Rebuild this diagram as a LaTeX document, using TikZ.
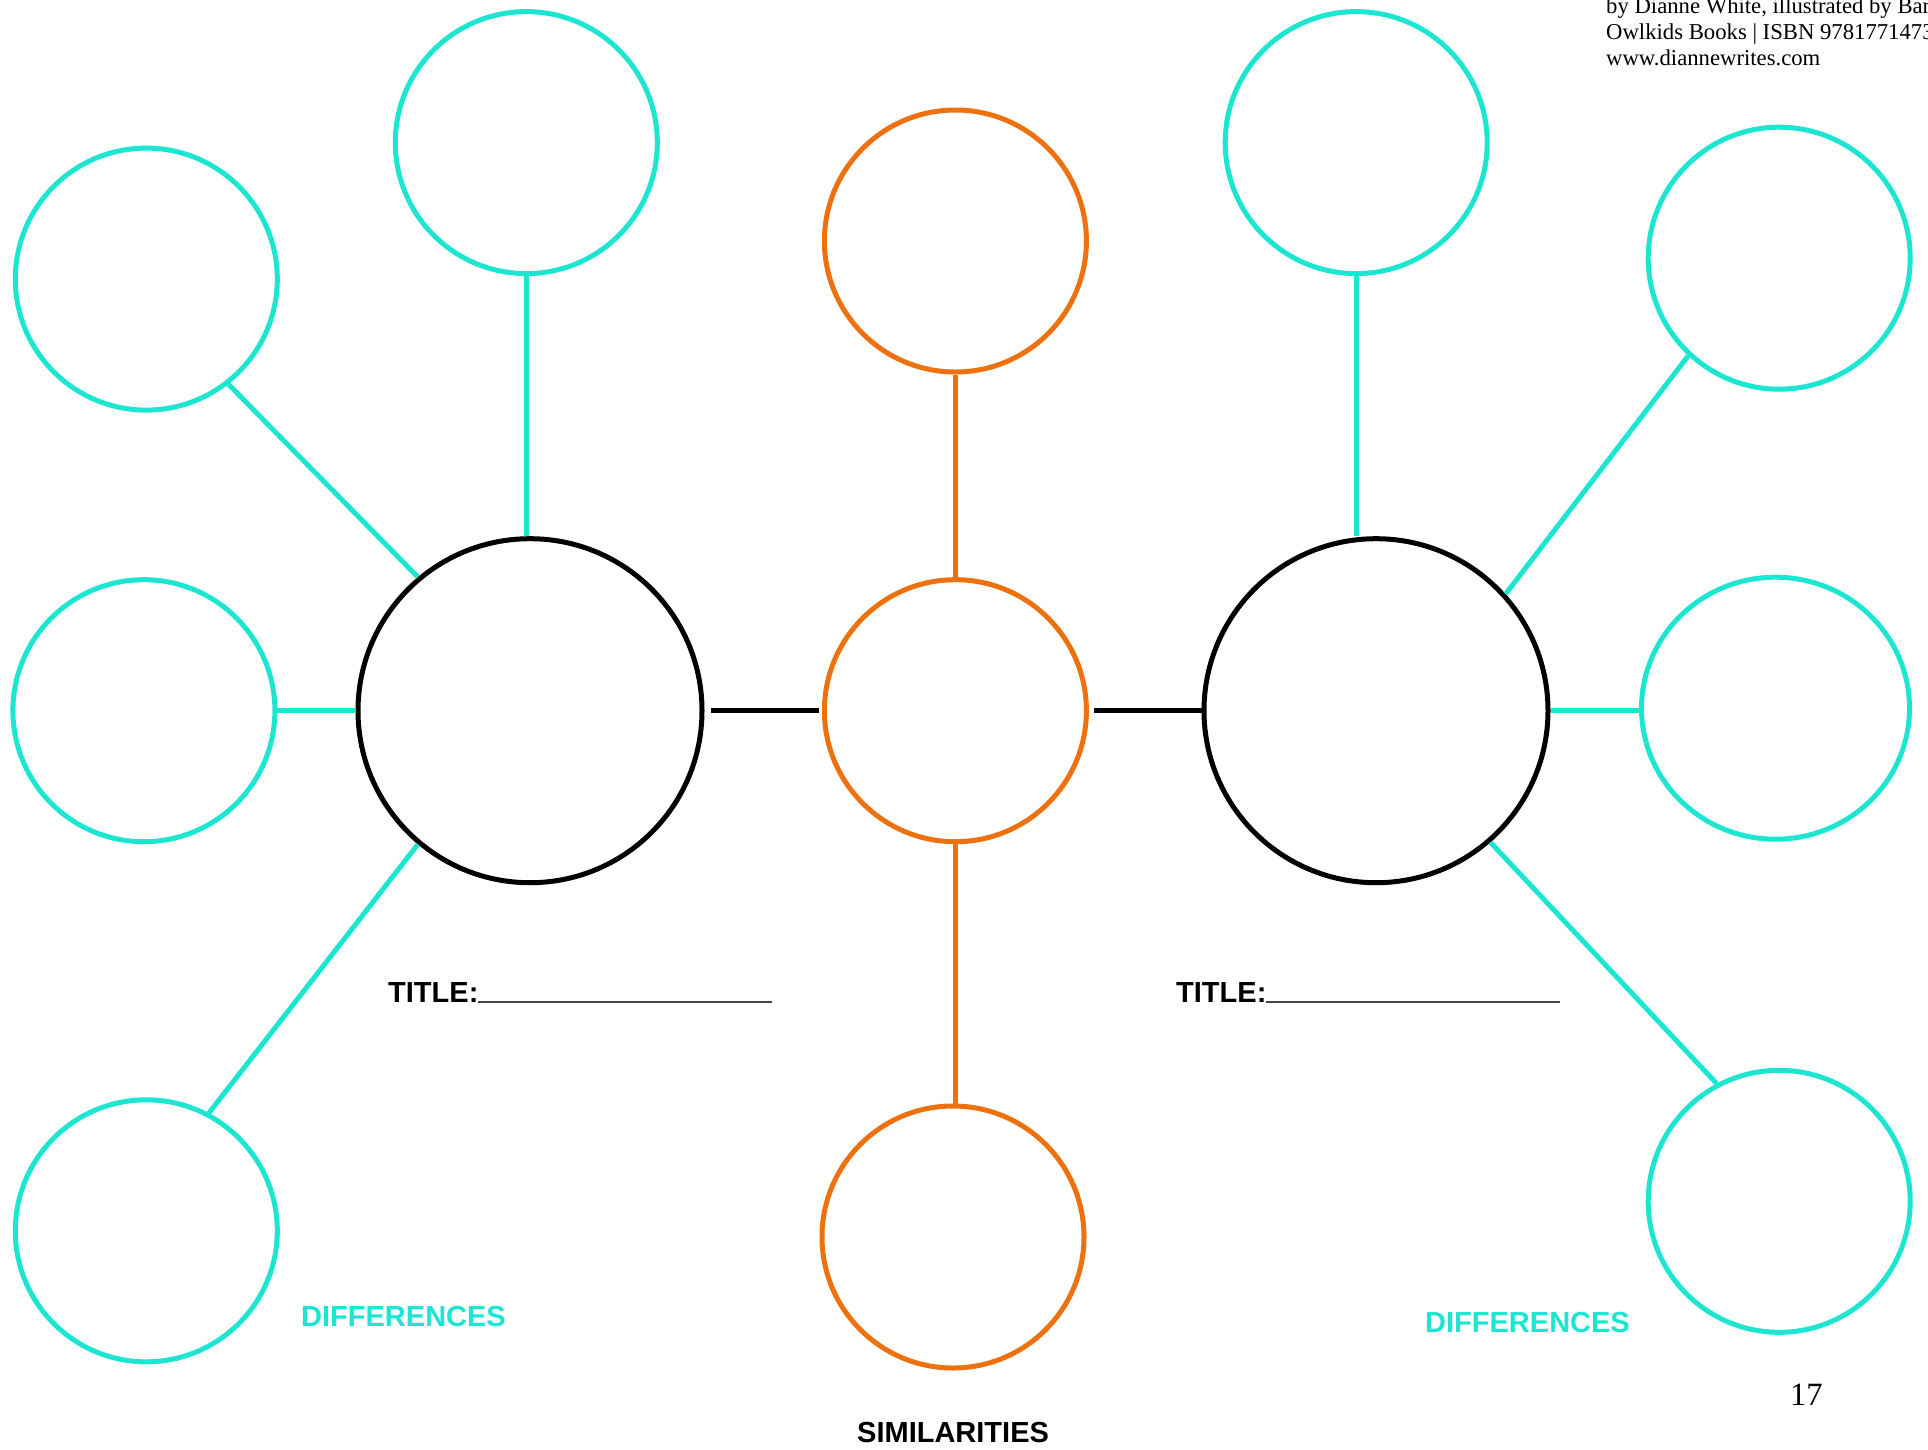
\documentclass[tikz,border=0pt]{standalone}
\usepackage{fontspec}
\usetikzlibrary{shapes.geometric}
\setmainfont{Liberation Serif}
\newfontfamily\hv{Liberation Sans}
\definecolor{cyanc}{HTML}{1CE6D2}
\definecolor{orangec}{HTML}{EE7110}
\definecolor{ulgray}{HTML}{444444}
\begin{document}
\begin{tikzpicture}[x=1pt,y=-1pt,
  small/.style={circle,draw,line width=5pt,minimum size=262pt,inner sep=0pt},
  big/.style={circle,draw=black,line width=5pt,minimum size=344pt,inner sep=0pt},
  cy/.style={draw=cyanc},
  orc/.style={draw=orangec},
  cline/.style={cyanc,line width=5pt},
  oline/.style={orangec,line width=5pt},
  bline/.style={black,line width=5pt},
  lbl/.style={inner sep=0pt,font=\hv\bfseries\fontsize{29}{33}\selectfont},
  credit/.style={inner sep=0pt,anchor=base west,font=\fontsize{22.7}{26}\selectfont},
]
\useasboundingbox (0,0) rectangle (1928,1449);
% circles
\node[small,cy] (A) at (146.3,279.1) {};
\node[small,cy] (B) at (526.3,142.6) {};
\node[small,cy] (C) at (143.9,710.7) {};
\node[small,cy] (D) at (146.3,1230.8) {};
\node[big] (E) at (530,710.7) {};
\node[small,orc] (F) at (955.4,710.7) {};
\node[small,orc] (G) at (955.4,241) {};
\node[small,orc] (H) at (953,1237) {};
\node[big] (I) at (1376,710.7) {};
\node[small,cy] (J) at (1356.2,142.6) {};
\node[small,cy] (K) at (1779.2,258.2) {};
\node[ellipse,draw=cyanc,line width=5pt,inner sep=0pt,minimum width=268pt,minimum height=262pt] (L) at (1775.5,708.2) {};
\node[small,cy] (M) at (1779.2,1201.3) {};
% connectors
\draw[cline] (A.308) -- (E.130);
\draw[cline] (B.south) -- (B.south |- E.north);
\draw[cline] (C.east) -- (E.west);
\draw[cline] (D.62) -- (E.230);
\draw[bline] ([xshift=6pt]E.east) -- ([xshift=-3pt]F.west);
\draw[oline] (G.south) -- (G.south |- F.north);
\draw[oline] (F.south) -- (F.south |- H.north);
\draw[bline] ([xshift=5pt]F.east) -- (I.west);
\draw[cline] (J.south) -- (J.south |- I.north);
\draw[cline] (K.227) -- (I.42);
\draw[cline] (I.east) -- (I.east -| L.west);
\draw[cline] (I.311) -- (M.118);
% labels
\node[lbl,anchor=base west] (t1) at (388,1002) {TITLE:{\color{ulgray}\rule[-1pt]{294pt}{2pt}}};
\node[lbl,anchor=base west] (t2) at (1176,1002) {TITLE:{\color{ulgray}\rule[-1pt]{294pt}{2pt}}};
\node[lbl,anchor=base west,text=cyanc] (d1) at (301,1326) {DIFFERENCES};
\node[lbl,anchor=base west,text=cyanc] (d2) at (1425,1332) {DIFFERENCES};
\node[lbl,anchor=base west] (s) at (857,1442) {SIMILARITIES};
\node[inner sep=0pt,anchor=base west,font=\fontsize{32.5}{36}\selectfont] (p) at (1790,1405) {17};
\node[credit] (c1) at (1606,13) {by Dianne White, illustrated by Bar};
\node[credit] (c2) at (1606,39) {Owlkids Books | ISBN 9781771473};
\node[credit] (c3) at (1606,65) {www.diannewrites.com};
\end{tikzpicture}
\end{document}
